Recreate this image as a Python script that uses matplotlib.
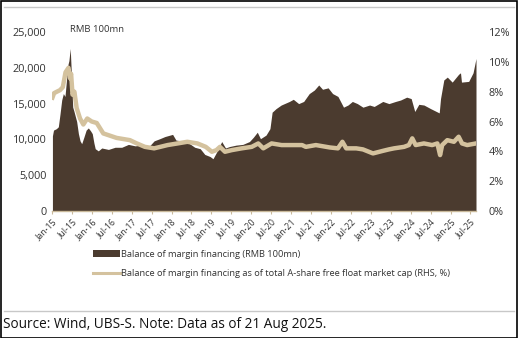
import matplotlib
matplotlib.use("Agg")
import matplotlib.pyplot as plt
import matplotlib.ticker as mticker
from matplotlib.patches import Rectangle
from matplotlib.lines import Line2D
import pandas as pd

plt.rcParams['font.family'] = ['Open Sans', 'DejaVu Sans']

# Balance of margin financing (RMB 100mn)
bal_dates = ["2015-01-05", "2015-01-15", "2015-02-10", "2015-02-28", "2015-03-15", "2015-03-31",
             "2015-04-15", "2015-04-30", "2015-05-15", "2015-05-28", "2015-06-05", "2015-06-17",
             "2015-06-25", "2015-07-03", "2015-07-10", "2015-07-20", "2015-08-15", "2015-08-31",
             "2015-09-15", "2015-09-30", "2015-10-20", "2015-11-10", "2015-11-30", "2015-12-20",
             "2016-01-05", "2016-01-20", "2016-02-01", "2016-02-29", "2016-04-01", "2016-06-01",
             "2016-08-01", "2016-10-01", "2016-12-01", "2017-02-01", "2017-04-01", "2017-06-01",
             "2017-07-25", "2017-09-15", "2017-11-01", "2018-01-10", "2018-02-10", "2018-04-01",
             "2018-06-15", "2018-08-01", "2018-09-20", "2018-11-01", "2018-12-20", "2019-01-15",
             "2019-02-20", "2019-04-05", "2019-05-10", "2019-06-15", "2019-08-15", "2019-10-15",
             "2019-12-15", "2020-01-20", "2020-02-25", "2020-03-25", "2020-05-15", "2020-06-20",
             "2020-07-10", "2020-08-15", "2020-10-01", "2020-12-15", "2021-01-20", "2021-03-10",
             "2021-04-25", "2021-06-15", "2021-08-01", "2021-09-10", "2021-10-15", "2021-12-05",
             "2022-01-15", "2022-03-05", "2022-04-25", "2022-06-05", "2022-07-15", "2022-08-30",
             "2022-10-20", "2022-12-20", "2023-01-31", "2023-04-20", "2023-06-15", "2023-08-15",
             "2023-09-30", "2023-11-25", "2024-01-05", "2024-02-07", "2024-03-15", "2024-05-01",
             "2024-07-01", "2024-09-18", "2024-09-30", "2024-10-30", "2024-12-01", "2025-01-15",
             "2025-03-15", "2025-04-01", "2025-04-10", "2025-06-15", "2025-07-25", "2025-08-21"]
bal_values = [10500, 11300, 11500, 11760, 13500, 15500,
              16400, 16000, 18500, 20500, 21000, 22700,
              20000, 16900, 14500, 14000, 12500, 10800,
              9800, 9400, 10300, 11300, 11600, 11200,
              10800, 9500, 8700, 8400, 8800, 8600,
              8900, 8900, 9300, 9100, 9200, 8900,
              9800, 10100, 10400, 10700, 9900, 9800,
              9400, 8900, 8700, 7900, 7600, 7300,
              8300, 9700, 8800, 9000, 9200, 9300,
              9700, 10300, 11000, 10100, 10600, 11500,
              13800, 14300, 14800, 15300, 15600, 15000,
              15300, 16400, 16900, 17600, 17000, 17200,
              16400, 16000, 14500, 14800, 15300, 15000,
              14500, 14800, 14600, 15300, 15000, 15300,
              15500, 15900, 15700, 13900, 14900, 14800,
              14300, 13700, 15700, 18300, 18700, 18000,
              19100, 19300, 18000, 18100, 19300, 21300]

# Balance of margin financing as % of total A-share free float market cap (RHS)
pct_dates = ["2015-01-05", "2015-01-20", "2015-02-15", "2015-03-15", "2015-04-10", "2015-05-05",
             "2015-06-01", "2015-06-15", "2015-06-25", "2015-07-08", "2015-07-25", "2015-08-15",
             "2015-09-15", "2015-10-15", "2015-11-20", "2015-12-31", "2016-02-15", "2016-04-15",
             "2016-08-15", "2016-12-15", "2017-02-10", "2017-05-01", "2017-07-25", "2017-11-25",
             "2018-02-25", "2018-05-25", "2018-08-25", "2018-11-10", "2019-01-05", "2019-02-15",
             "2019-03-20", "2019-05-05", "2019-07-05", "2019-10-05", "2020-01-05", "2020-03-05",
             "2020-04-20", "2020-07-05", "2020-10-05", "2021-01-10", "2021-04-10", "2021-05-15",
             "2021-08-15", "2021-12-20", "2022-03-05", "2022-04-15", "2022-05-20", "2022-08-20",
             "2022-10-20", "2023-01-20", "2023-04-20", "2023-06-15", "2023-08-01", "2023-11-01",
             "2023-12-15", "2024-01-15", "2024-02-15", "2024-05-01", "2024-07-15", "2024-09-01",
             "2024-09-26", "2024-10-15", "2024-12-01", "2025-01-31", "2025-03-15", "2025-04-15",
             "2025-06-01", "2025-08-21"]
pct_values = [7.6, 7.9, 8.0, 8.1, 8.3, 9.3,
              9.6, 8.9, 9.2, 7.8, 8.0, 6.9,
              6.2, 5.8, 6.2, 6.0, 5.9, 5.2,
              4.9, 4.75, 4.55, 4.3, 4.2, 4.42,
              4.53, 4.64, 4.53, 4.3, 3.97, 4.08,
              4.3, 3.97, 4.08, 4.2, 4.3, 4.53,
              4.2, 4.53, 4.42, 4.42, 4.42, 4.3,
              4.42, 4.26, 4.2, 4.64, 4.2, 4.2,
              4.13, 3.86, 4.03, 4.13, 4.2, 4.3,
              4.42, 4.87, 4.42, 4.53, 4.42, 4.53,
              3.75, 4.42, 4.75, 4.64, 4.98, 4.53,
              4.42, 4.53]

x_tick_labels = ["Jan-15", "Jul-15", "Jan-16", "Jul-16", "Jan-17", "Jul-17", "Jan-18", "Jul-18",
                 "Jan-19", "Jul-19", "Jan-20", "Jul-20", "Jan-21", "Jul-21", "Jan-22", "Jul-22",
                 "Jan-23", "Jul-23", "Jan-24", "Jul-24", "Jan-25", "Jul-25"]

BROWN = "#4b3b2f"
TAN = "#d4c29e"
AXIS = "#c9b99a"

bd = pd.to_datetime(bal_dates)
pdts = pd.to_datetime(pct_dates)

W, H = 518, 338
fig = plt.figure(figsize=(W / 100, H / 100), dpi=100)
ax = fig.add_axes([52 / W, 1 - 211 / H, (476 - 52) / W, (211 - 32) / H])
ax2 = ax.twinx()

ax.fill_between(bd, 0, bal_values, color=BROWN, linewidth=0, zorder=2)
ax2.plot(pdts, pct_values, color=TAN, linewidth=3.2, solid_joinstyle='round', zorder=3)

x0 = pd.Timestamp("2015-01-01")
x1 = pd.Timestamp("2025-08-21")
ax.set_xlim(x0, x1)
ax.set_ylim(0, 25000)
ax2.set_ylim(0, 12)

ax.yaxis.set_major_locator(mticker.MultipleLocator(5000))
ax.yaxis.set_major_formatter(mticker.FuncFormatter(lambda v, p: f"{int(v):,}"))
ax2.yaxis.set_major_locator(mticker.MultipleLocator(2))
ax2.yaxis.set_major_formatter(mticker.FuncFormatter(lambda v, p: f"{int(round(v))}%"))

ticks = pd.date_range("2015-01-01", "2025-07-01", freq="6MS")
ax.set_xticks(ticks)
ax.set_xticklabels(x_tick_labels, rotation=45, ha="right", rotation_mode="anchor",
                   fontsize=6.3, color="#333333")
ax.tick_params(axis="x", length=2.5, color=AXIS, pad=2)
ax.tick_params(axis="y", length=0, labelsize=7.8, labelcolor="#333333", pad=4)
ax2.tick_params(axis="y", length=0, labelsize=7.8, labelcolor="#333333", pad=9)

for a in (ax, ax2):
    for s in ("top", "right", "left", "bottom"):
        a.spines[s].set_visible(False)
ax.spines["bottom"].set_visible(True)
ax.spines["bottom"].set_color(AXIS)
ax.spines["bottom"].set_linewidth(1.0)
ax.set_zorder(ax2.get_zorder() - 1)
ax2.patch.set_visible(False)

fig.text(70 / W, 1 - 29 / H, "RMB 100mn", fontsize=6.8, color="#333333", va="center", ha="left")

# legend
h1 = Rectangle((0, 0), 1, 1, facecolor=BROWN, edgecolor="none")
h2 = Line2D([0], [0], color=TAN, linewidth=2.2)
leg = fig.legend([h1, h2],
                 ["Balance of margin financing (RMB 100mn)",
                  "Balance of margin financing as of total A-share free float market cap (RHS, %)"],
                 loc="upper left", bbox_to_anchor=(93 / W, 1 - 250 / H), frameon=False,
                 fontsize=6.7, handlelength=2.9, handletextpad=0.12, labelspacing=1.05,
                 borderaxespad=0, borderpad=0)
for t in leg.get_texts():
    t.set_color("#333333")

# decorative lines and source
fig.add_artist(Line2D([4 / W, 514 / W], [1 - 7 / H, 1 - 7 / H], color="#c8c8c8", linewidth=1.0))
fig.add_artist(Line2D([4 / W, 514 / W], [1 - 311 / H, 1 - 311 / H], color="#c8c8c8", linewidth=1.0))
fig.text(3 / W, 1 - 325 / H, "Source: Wind, UBS-S. Note: Data as of 21 Aug 2025.",
         fontsize=9.8, color="#111111", va="center", ha="left")
fig.add_artist(Rectangle((0.5 / W, 0.5 / H), (W - 1.5) / W, (H - 1.5) / H, transform=fig.transFigure,
                         fill=False, edgecolor="black", linewidth=1.2))

fig.savefig("out.png", dpi=100)
